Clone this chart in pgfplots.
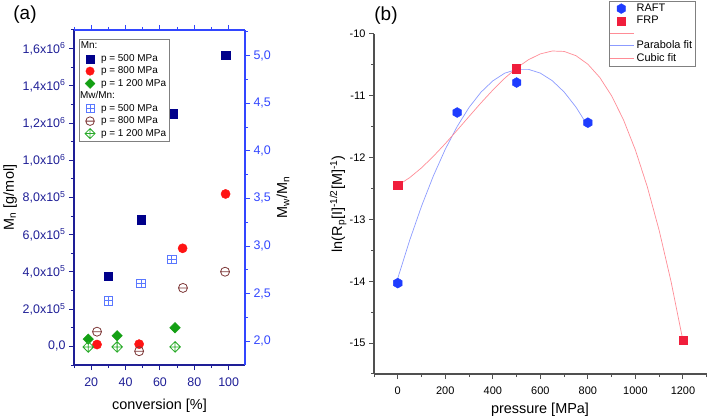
\documentclass[border=0pt]{standalone}
\usepackage{fontspec}
\setmainfont{Liberation Sans}
\usepackage{pgfplots}
\pgfplotsset{compat=1.18}
\usetikzlibrary{plotmarks}

\definecolor{navyax}{RGB}{30,30,150}
\definecolor{blueax}{RGB}{50,70,255}
\definecolor{mnnavy}{RGB}{0,0,139}
\definecolor{mnred}{RGB}{255,20,20}
\definecolor{mngreen}{RGB}{20,160,20}
\definecolor{mwblue}{RGB}{90,120,255}
\definecolor{mwbrown}{RGB}{125,55,55}
\definecolor{mwgreen}{RGB}{40,170,40}
\definecolor{raft}{RGB}{30,60,255}
\definecolor{frp}{RGB}{240,30,60}
\definecolor{parab}{RGB}{140,155,255}
\definecolor{cubicc}{RGB}{255,140,150}
\definecolor{axgray}{RGB}{80,80,80}

\pgfdeclareplotmark{hexagon*}{%
  \pgfpathmoveto{\pgfqpointpolar{90}{\pgfplotmarksize}}%
  \pgfpathlineto{\pgfqpointpolar{150}{\pgfplotmarksize}}%
  \pgfpathlineto{\pgfqpointpolar{210}{\pgfplotmarksize}}%
  \pgfpathlineto{\pgfqpointpolar{270}{\pgfplotmarksize}}%
  \pgfpathlineto{\pgfqpointpolar{330}{\pgfplotmarksize}}%
  \pgfpathlineto{\pgfqpointpolar{30}{\pgfplotmarksize}}%
  \pgfpathclose\pgfusepathqfillstroke}
\pgfdeclareplotmark{sqplus}{%
  \pgfpathrectangle{\pgfqpoint{-\pgfplotmarksize}{-\pgfplotmarksize}}{\pgfqpoint{2\pgfplotmarksize}{2\pgfplotmarksize}}%
  \pgfpathmoveto{\pgfqpoint{-\pgfplotmarksize}{0pt}}\pgfpathlineto{\pgfqpoint{\pgfplotmarksize}{0pt}}%
  \pgfpathmoveto{\pgfqpoint{0pt}{-\pgfplotmarksize}}\pgfpathlineto{\pgfqpoint{0pt}{\pgfplotmarksize}}%
  \pgfusepathqstroke}
\pgfdeclareplotmark{myominus}{%
  \pgfpathcircle{\pgfpointorigin}{\pgfplotmarksize}%
  \pgfpathmoveto{\pgfqpoint{-\pgfplotmarksize}{0pt}}\pgfpathlineto{\pgfqpoint{\pgfplotmarksize}{0pt}}%
  \pgfusepathqstroke}
\pgfdeclareplotmark{dplus}{%
  \pgfpathmoveto{\pgfqpoint{0pt}{\pgfplotmarksize}}%
  \pgfpathlineto{\pgfqpoint{\pgfplotmarksize}{0pt}}%
  \pgfpathlineto{\pgfqpoint{0pt}{-\pgfplotmarksize}}%
  \pgfpathlineto{\pgfqpoint{-\pgfplotmarksize}{0pt}}%
  \pgfpathclose
  \pgfpathmoveto{\pgfqpoint{-\pgfplotmarksize}{0pt}}\pgfpathlineto{\pgfqpoint{\pgfplotmarksize}{0pt}}%
  \pgfpathmoveto{\pgfqpoint{0pt}{-\pgfplotmarksize}}\pgfpathlineto{\pgfqpoint{0pt}{\pgfplotmarksize}}%
  \pgfusepathqstroke}
\pgfdeclareplotmark{sqdiamond*}{%
  \pgfpathmoveto{\pgfqpoint{0pt}{\pgfplotmarksize}}%
  \pgfpathlineto{\pgfqpoint{\pgfplotmarksize}{0pt}}%
  \pgfpathlineto{\pgfqpoint{0pt}{-\pgfplotmarksize}}%
  \pgfpathlineto{\pgfqpoint{-\pgfplotmarksize}{0pt}}%
  \pgfpathclose\pgfusepathqfillstroke}

\begin{document}
\begin{tikzpicture}
\useasboundingbox (0bp,0bp) rectangle (709bp,419bp);
\node[font=\fontsize{19}{22}\selectfont] at (25bp,404bp) {(a)};
\node[font=\fontsize{19}{22}\selectfont] at (386bp,403bp) {(b)};

% ---------- panel (a), left axis: Mn ----------
\begin{axis}[at={(74bp,54bp)}, anchor=south west, scale only axis,
  width=171bp, height=335bp,
  xmin=10, xmax=109.5, ymin=-1e5, ymax=1.7e6,
  axis x line*=bottom, axis y line*=left,
  axis line style={navyax, line width=1.2bp},
  tick align=outside, major tick length=5bp, minor tick length=3bp,
  every tick/.style={navyax, line width=1bp},
  scaled y ticks=false,
  xtick={20,40,60,80,100}, minor xtick={10,30,50,70,90},
  ytick={0,2e5,4e5,6e5,8e5,1e6,1.2e6,1.4e6,1.6e6},
  yticklabels={{0,0},{2,0x10\textsuperscript{5}},{4,0x10\textsuperscript{5}},{6,0x10\textsuperscript{5}},{8,0x10\textsuperscript{5}},{1,0x10\textsuperscript{6}},{1,2x10\textsuperscript{6}},{1,4x10\textsuperscript{6}},{1,6x10\textsuperscript{6}}},
  minor ytick={-1e5,1e5,3e5,5e5,7e5,9e5,1.1e6,1.3e6,1.5e6,1.7e6},
  ticklabel style={font=\fontsize{12.5}{14}\selectfont, text=navyax},
  xticklabel style={yshift=-4bp},
  /pgf/number format/assume math mode=true,
  xlabel={conversion [\%]},
  xlabel style={font=\fontsize{14.5}{16}\selectfont, at={(axis description cs:0.5,-0.122)}, anchor=center},
  ylabel={M\textsubscript{n} [g/mol]},
  ylabel style={font=\fontsize{14.5}{16}\selectfont, at={(axis description cs:-0.374,0.5)}, anchor=center},
  clip=false]
\addplot[only marks, mark=square*, mark size=4.2bp, mnnavy, mark options={fill=mnnavy}]
  coordinates {(30,3.78e5) (49,6.8e5) (67.8,1.25e6) (98.2,1.563e6)};
\addplot[only marks, mark=*, mark size=4.6bp, mnred, mark options={fill=mnred}]
  coordinates {(23.4,1.0e4) (47.9,1.2e4) (73.2,5.27e5) (98.2,8.19e5)};
\addplot[only marks, mark=sqdiamond*, mark size=5.3bp, mngreen, mark options={fill=mngreen}]
  coordinates {(18.3,3.9e4) (35.1,5.7e4) (68.8,1.0e5)};
\end{axis}

% ---------- panel (a), right axis: Mw/Mn ----------
\begin{axis}[at={(74bp,54bp)}, anchor=south west, scale only axis,
  width=171bp, height=335bp,
  xmin=10, xmax=109.5, ymin=1.75, ymax=5.27,
  axis x line*=top, axis y line*=right,
  axis line style={blueax, line width=1.2bp},
  tick align=outside, major tick length=5bp, minor tick length=3bp,
  every tick/.style={blueax, line width=1bp},
  xtick={20,40,60,80,100}, minor xtick={10,30,50,70,90}, xticklabels={},
  ytick={2,2.5,3,3.5,4,4.5,5},
  yticklabels={{2,0},{2,5},{3,0},{3,5},{4,0},{4,5},{5,0}},
  minor ytick={2.25,2.75,3.25,3.75,4.25,4.75,5.25},
  ticklabel style={font=\fontsize{12.5}{14}\selectfont, text=blueax},
  ylabel={M\textsubscript{w}/M\textsubscript{n}},
  ylabel style={font=\fontsize{14.5}{16}\selectfont, at={(axis description cs:1.222,0.5)}, anchor=center},
  legend style={at={(axis description cs:0.029,0.973)}, anchor=north west,
    draw=gray, very thin, font=\fontsize{10}{11}\selectfont,
    inner sep=1bp, row sep=0bp},
  legend cell align=left,
  legend image code/.code={\path[draw=none] (0bp,0bp) -- (19bp,0bp);\path[draw=none,#1] plot coordinates {(10bp,0bp)};},
  clip=false]
\addplot[only marks, mark=sqplus, mark size=4.2bp, mwblue, line width=0.8bp, forget plot]
  coordinates {(30.1,2.424) (49,2.61) (66.9,2.86)};
\addplot[only marks, mark=myominus, mark size=4.5bp, mwbrown, line width=0.8bp, forget plot]
  coordinates {(23.4,2.10) (47.9,1.895) (73.4,2.56) (97.9,2.73)};
\addplot[only marks, mark=dplus, mark size=5.3bp, mwgreen, line width=0.8bp, forget plot]
  coordinates {(18.3,1.94) (35.1,1.94) (68.8,1.94)};
\addlegendimage{empty legend}\addlegendentry{\hspace*{-21bp}Mn:}
\addlegendimage{only marks, mark=square*, mark size=4bp, mnnavy, mark options={fill=mnnavy}}\addlegendentry{p = 500 MPa}
\addlegendimage{only marks, mark=*, mark size=4.3bp, mnred, mark options={fill=mnred}}\addlegendentry{p = 800 MPa}
\addlegendimage{only marks, mark=sqdiamond*, mark size=5bp, mngreen, mark options={fill=mngreen}}\addlegendentry{p = 1 200 MPa}
\addlegendimage{empty legend}\addlegendentry{\hspace*{-21bp}Mw/Mn:}
\addlegendimage{only marks, mark=sqplus, mark size=4bp, mwblue, line width=0.8bp}\addlegendentry{p = 500 MPa}
\addlegendimage{only marks, mark=myominus, mark size=4.3bp, mwbrown, line width=0.8bp}\addlegendentry{p = 800 MPa}
\addlegendimage{only marks, mark=dplus, mark size=5bp, mwgreen, line width=0.8bp}\addlegendentry{p = 1 200 MPa}
\end{axis}

% ---------- panel (b) ----------
\begin{axis}[at={(374bp,45bp)}, anchor=south west, scale only axis,
  width=332.7bp, height=340bp,
  xmin=-100, xmax=1300, ymin=-15.5, ymax=-10,
  axis x line*=bottom, axis y line*=left,
  axis line style={axgray, line width=1.5bp},
  tick align=outside, major tick length=5bp, minor tick length=3bp,
  every tick/.style={axgray, line width=1bp},
  xtick={0,200,400,600,800,1000,1200},
  minor xtick={-100,100,300,500,700,900,1100,1300},
  ytick={-15,-14,-13,-12,-11,-10},
  minor ytick={-15.5,-14.5,-13.5,-12.5,-11.5,-10.5},
  ticklabel style={font=\fontsize{11}{13}\selectfont, text=black},
  xticklabel style={yshift=-4bp},
  /pgf/number format/assume math mode=true,
  /pgf/number format/1000 sep={},
  xlabel={pressure [MPa]},
  xlabel style={font=\fontsize{14.5}{16}\selectfont, at={(axis description cs:0.499,-0.106)}, anchor=center},
  ylabel={ln(R\textsubscript{p}[I]\textsuperscript{-1/2}[M]\textsuperscript{-1})},
  ylabel style={font=\fontsize{14.5}{16}\selectfont, at={(axis description cs:-0.108,0.5)}, anchor=center},
  legend style={at={(axis description cs:0.706,1.097)}, anchor=north west,
    draw=gray, very thin, font=\fontsize{11}{12}\selectfont,
    inner sep=1bp, row sep=-1bp},
  legend cell align=left,
  legend image code/.code={\draw[mark repeat=2,mark phase=2,#1] plot coordinates {(0bp,0bp) (11bp,0bp) (24bp,0bp)};},
  clip=false]
\addplot[parab, line width=0.7bp, forget plot] coordinates {
 (0,-13.952) (50,-13.338) (100,-12.785) (150,-12.294) (200,-11.864) (250,-11.496)
 (300,-11.188) (350,-10.942) (400,-10.758) (450,-10.634) (500,-10.573) (550,-10.572)
 (600,-10.633) (650,-10.755) (700,-10.938) (750,-11.183) (800,-11.489)};
\addplot[cubicc, line width=0.7bp, forget plot] coordinates {
 (0,-12.45) (50,-12.324) (100,-12.165) (150,-11.978) (200,-11.773) (250,-11.556)
 (300,-11.334) (350,-11.115) (400,-10.907) (450,-10.716) (500,-10.550) (550,-10.416)
 (600,-10.322) (650,-10.275) (700,-10.282) (750,-10.351) (800,-10.489) (850,-10.703)
 (900,-11.001) (950,-11.390) (1000,-11.878) (1050,-12.471) (1100,-13.178) (1150,-14.005)
 (1200,-14.960)};
\addplot[only marks, mark=hexagon*, mark size=5bp, raft, mark options={fill=raft}, forget plot]
  coordinates {(0,-14.03) (250,-11.27) (500,-10.785) (800,-11.435)};
\addplot[only marks, mark=square*, mark size=4.1bp, frp, mark options={fill=frp}, forget plot]
  coordinates {(0,-12.45) (500,-10.56) (1200,-14.955)};
\addlegendimage{only marks, mark=hexagon*, mark size=5bp, raft, mark options={fill=raft}}\addlegendentry{RAFT}
\addlegendimage{only marks, mark=square*, mark size=4bp, frp, mark options={fill=frp}}\addlegendentry{FRP}
\addlegendimage{cubicc, line width=0.7bp}\addlegendentry{\strut}
\addlegendimage{parab, line width=0.7bp}\addlegendentry{Parabola fit}
\addlegendimage{cubicc, line width=0.7bp}\addlegendentry{Cubic fit}
\end{axis}
\end{tikzpicture}
\end{document}
